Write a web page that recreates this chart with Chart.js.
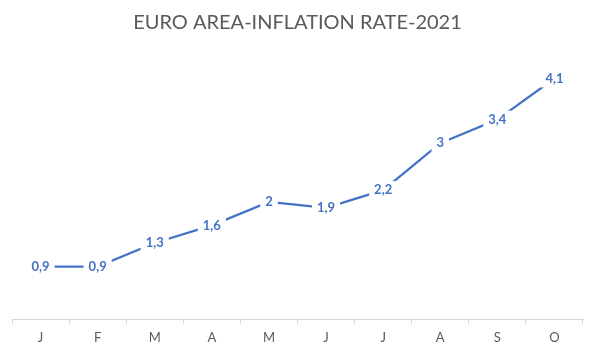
<!DOCTYPE html>
<html>
<head>
<meta charset="utf-8">
<script src="https://cdn.jsdelivr.net/npm/chart.js@4/dist/chart.umd.min.js"></script>
<style>
  html, body { margin: 0; padding: 0; background: #fff; }
  #wrap { width: 597px; height: 358px; }
</style>
</head>
<body>
<div id="wrap"><canvas id="inflationChart"></canvas></div>
<script>
const months = ['J', 'F', 'M', 'A', 'M', 'J', 'J', 'A', 'S', 'O'];
const inflation = [0.9, 0.9, 1.3, 1.6, 2, 1.9, 2.2, 3, 3.4, 4.1];

// draws value labels on top of the points, with a white box that breaks the line
const pointLabels = {
    id: 'pointLabels',
    afterDatasetsDraw(chart) {
        const ctx = chart.ctx;
        const meta = chart.getDatasetMeta(0);
        ctx.save();
        ctx.font = 'bold 13px Lato';
        ctx.textAlign = 'center';
        ctx.textBaseline = 'middle';
        meta.data.forEach((pt, i) => {
            const txt = String(inflation[i]).replace('.', ',');
            const w = ctx.measureText(txt).width;
            ctx.fillStyle = '#ffffff';
            ctx.fillRect(pt.x - w / 2 - 5, pt.y - 9, w + 10, 18);
            ctx.fillStyle = '#4472C4';
            ctx.fillText(txt, pt.x, pt.y);
        });
        ctx.restore();
    }
};

const inflationCtx = document.getElementById('inflationChart').getContext('2d');
const inflationChart = new Chart(inflationCtx, {
    type: 'line',
    data: {
        labels: months,
        datasets: [{
            label: 'Inflation rate',
            data: inflation,
            borderColor: '#4472C4',
            borderWidth: 2.25,
            pointRadius: 0,
            tension: 0,
            fill: false
        }]
    },
    options: {
        responsive: true,
        maintainAspectRatio: false,
        animation: false,
        layout: {
            padding: { left: 12, right: 14, top: 8, bottom: 6 }
        },
        scales: {
            x: {
                offset: true,
                border: { display: true, color: '#d9d9d9', width: 1 },
                grid: {
                    offset: true,
                    drawOnChartArea: false,
                    drawTicks: true,
                    tickLength: 5,
                    color: '#d9d9d9'
                },
                ticks: {
                    color: '#595959',
                    font: { family: 'Lato', size: 13 },
                    padding: 6
                }
            },
            y: {
                display: false,
                min: 0,
                max: 4.5
            }
        },
        plugins: {
            title: {
                display: true,
                text: 'EURO AREA-INFLATION RATE-2021',
                color: '#595959',
                font: { family: 'Lato', size: 20, weight: 'normal' },
                padding: { top: 3, bottom: 20 }
            },
            legend: { display: false },
            tooltip: { enabled: false }
        }
    },
    plugins: [pointLabels]
});
</script>
</body>
</html>
